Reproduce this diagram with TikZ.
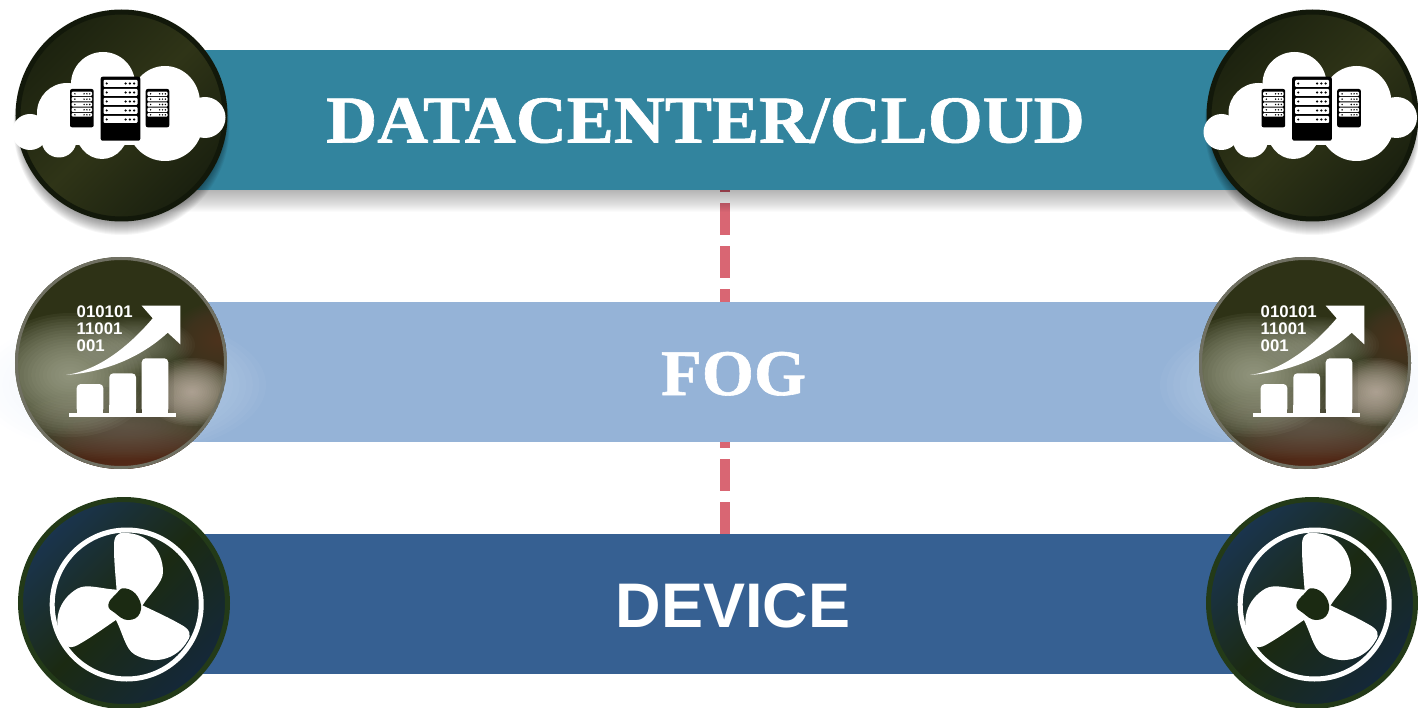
\documentclass[tikz,border=0pt]{standalone}
\usepackage{fontspec}
\setmainfont{Liberation Serif}
\newfontfamily\arialfont{Liberation Sans}
\newfontfamily\heavyserif[FakeBold=0.9]{Liberation Serif Bold}
\definecolor{cloudbar}{HTML}{32849E}
\definecolor{fogbar}{HTML}{95B3D7}
\definecolor{devbar}{HTML}{366092}
\definecolor{dashred}{HTML}{D96673}
\definecolor{fanmid}{HTML}{1B2A12}
\definecolor{cloudrim}{HTML}{12180A}
\definecolor{cloudA}{HTML}{1C220F}
\definecolor{cloudB}{HTML}{2F3417}
\definecolor{cloudC}{HTML}{1A200F}
\definecolor{fogrim}{HTML}{707062}
\definecolor{fanrim}{HTML}{233A18}
\definecolor{fanA}{HTML}{1A344E}
\definecolor{fanB}{HTML}{1B2A12}
\definecolor{fanC}{HTML}{14283A}
\definecolor{fogbase}{HTML}{2E3216}
\definecolor{blobred}{HTML}{5E3A2C}
\definecolor{blobdeep}{HTML}{64281C}
\definecolor{blobmid}{HTML}{787064}
\definecolor{blobsage}{HTML}{AFB29B}
\definecolor{blobsageb}{HTML}{AFB2A0}
\definecolor{blobpink}{HTML}{CDBEB2}
\definecolor{halocol}{HTML}{E1EBF8}
\tikzset{
  bar/.style={rectangle,minimum width=1090pt,minimum height=140pt,inner sep=0pt,fill=#1},
  link/.style={draw=dashred,line width=10pt,dash pattern=on 32pt off 11pt},
  title/.style={text=white,inner sep=0pt,anchor=base},
  orbcloud/.style={circle,minimum size=207pt,inner sep=0pt,line width=5pt,draw=cloudrim,
    left color=cloudA,right color=cloudC,middle color=cloudB,shading angle=45},
  orbfog/.style={circle,minimum size=209pt,inner sep=0pt,line width=3pt,draw=fogrim},
  orbfan/.style={circle,minimum size=207pt,inner sep=0pt,line width=5pt,draw=fanrim,
    left color=fanA,right color=fanC,middle color=fanB,shading angle=45},
}
% soft blob: stacked translucent ellipses
\newcommand\softblob[6]{% x y rx ry colour opacity-per-step
  \foreach \kk in {1,...,22}{
    \fill[#5,fill opacity=#6] (#1,#2) ellipse [x radius={#3*\kk/22},y radius={#4*\kk/22}];
  }}
\newcommand\rack[7]{% x0 y0 x1 y1 slot-inset dot-r slotlist(y0/y1)
  \fill[black,rounded corners=2pt] (#1,#2) rectangle (#3,#4);
  \foreach \ya/\yb in {#7}{
    \fill[white,rounded corners=1pt] ({#1+#5},\ya) rectangle ({#3-#5},\yb);
    \fill[black] ({#1+#5+3.2},{(\ya+\yb)/2}) circle [radius=#6];
    \foreach \dd in {3.5,8,12.5}{
      \fill[black] ({#3-#5-\dd*(#6/1.2)*0.95},{(\ya+\yb)/2}) circle [radius=#6];
    }
  }}
\newcommand\cloudicon{%
  \foreach \cx/\cy/\rr in {30/132/18, 59/140/17.5, 67/113/30, 103/84/32, 205/117.5/20.5}{
    \fill[white] (\cx,\cy) circle [radius=\rr];
  }
  \fill[white] (165,103) ellipse [x radius=35,y radius=37];
  \fill[white] (165,122) ellipse [x radius=38,y radius=39];
  \fill[white] (102,128) ellipse [x radius=27,y radius=31];
  \fill[white] (45,100) rectangle (185,145);
  \rack{100.7}{76.7}{140.3}{140.7}{2.8}{1.2}{80/87,89/96,98/105,107/114,116/123}
  \rack{70}{89}{93.7}{127.3}{1.7}{0.8}{91.7/96,97/101.3,102.3/106.7,107.7/112,113/116.7}
  \rack{145.7}{89}{169.3}{127.3}{1.7}{0.8}{91.7/96,97/101.3,102.3/106.7,107.7/112,113/116.7}
}
\newcommand\fogfill{%
  \fill[fogbase] (121,363) circle [radius=106];
  \softblob{220}{340}{50}{38}{blobred}{0.06}
  \softblob{135}{470}{115}{55}{blobdeep}{0.075}
  \softblob{125}{425}{115}{35}{blobmid}{0.05}
  \softblob{70}{375}{85}{62}{blobsage}{0.07}
  \softblob{135}{345}{60}{28}{blobsageb}{0.04}
  \softblob{192}{392}{48}{34}{blobpink}{0.075}
}
\newcommand\fogicon[1]{%
  \foreach \xa/\xb/\yt in {76.7/103.3/384,109.3/136/373.3,141.7/168.3/358.3}{
    \fill[black,fill opacity=.05] ({\xb},{\yt+3}) rectangle ({\xb+6},412.7);
    \fill[white,rounded corners=4pt] (\xa,412.9) -- (\xa,\yt) -- (\xb,\yt) -- (\xb,412.9) -- cycle;
    \fill[white] (\xa,405) rectangle (\xb,413);
  }
  \fill[white] (69,412.7) rectangle (176,416.7);
  \fill[white] (66,375) .. controls (100,370) and (130,345) .. (152.7,318.3)
    -- (141.7,305.7) -- (180.3,305.7) -- (180.3,344.3) -- (167.7,332.7)
    .. controls (140,358) and (105,372) .. (66,375) -- cycle;
  \node[text=white,inner sep=0pt,anchor=north west,align=left,font=\arialfont\bfseries\fontsize{16.8}{17}\selectfont] (#1) at (76.5,306) {010101\\11001\\001};
}
\newcommand\fanblade{%
  \fill[white] (-8.3,-14) .. controls (-10,-35) and (-11,-45) .. (-11,-58)
   .. controls (-11.5,-68) and (-8,-73) .. (0,-72)
   .. controls (22,-72) and (38,-55) .. (38,-33)
   .. controls (38,-22) and (25,-12) .. (16.7,1.7) -- (0,0) -- cycle;
}
\newcommand\fanicon{%
  \draw[white,line width=5pt] (126.7,604.5) circle [radius=74.5];
  \begin{scope}[shift={(125,605)}]
    \fanblade
    \begin{scope}[rotate=120]\fanblade\end{scope}
    \begin{scope}[rotate=240]\fanblade\end{scope}
    \fill[fanmid] plot[smooth cycle,tension=.8] coordinates {(-16.7,0) (-9,-11) (0,-16.7) (13,-8) (15,8) (3,15) (-10,8)};
  \end{scope}
}
\newcommand\halo{%
  \foreach \kk in {1,...,22}{
    \fill[halocol,fill opacity=.045] (121,385) ellipse [x radius={145*\kk/22},y radius={70*\kk/22}];
  }}
\newcommand\circshadow{%
  \foreach \kk in {1,...,16}{
    \fill[black,fill opacity=.035] (121.5,{115+4+\kk*0.5}) circle [radius={100+\kk*0.5}];
  }}
\begin{document}
\begin{tikzpicture}[x=1pt,y=-1pt]
\useasboundingbox (0,0) rectangle (1418,708);
\clip (0,0) rectangle (1418,708);
% bands
\node[bar=cloudbar] (cloudband) at (725,120) {};
\node[bar=fogbar] (fogband) at (725,372) {};
\node[bar=devbar] (devband) at (725,604) {};
% connectors
\draw[link,dash phase=30pt] (cloudband.south) -- (fogband.north);
\draw[link,dash phase=26pt] (fogband.south) -- (devband.north);
% band shadow
\foreach \kk in {1,...,22}{
  \fill[black,fill opacity=.016] (150,190) rectangle (1290,{190+\kk});
}
% halos
\halo
\begin{scope}[shift={(1184,0)}]\halo\end{scope}
% titles
\node[title,font=\heavyserif\fontsize{67}{67}\selectfont] (cloudtxt) at (705.5,142.5) {\scalebox{1.054}[1]{DATACENTER/CLOUD}};
\node[title,font=\heavyserif\fontsize{65}{65}\selectfont] (fogtxt) at (733.5,395) {\scalebox{1.03}[1]{FOG}};
\node[title,font=\arialfont\bfseries\fontsize{63}{63}\selectfont] (devtxt) at (733,627) {DEVICE};
% cloud circles
\circshadow
\begin{scope}[shift={(1191,0)}]\circshadow\end{scope}
\node[orbcloud] (orbcloudl) at (121.5,115.5) {};
\node[orbcloud] (orbcloudr) at (1312.5,115.5) {};
\cloudicon
\begin{scope}[shift={(1191.5,0)}]\cloudicon\end{scope}
% fog circles
\begin{scope}
  \clip (121,363) circle [radius=106];
  \fogfill
\end{scope}
\node[orbfog] (orbfogl) at (121,363) {};
\fogicon{binl}
\begin{scope}[shift={(1184,0)}]
  \begin{scope}
    \clip (121,363) circle [radius=106];
    \fogfill
  \end{scope}
  \node[orbfog] (orbfogr) at (121,363) {};
  \fogicon{binr}
\end{scope}
% fan circles
\node[orbfan] (orbfanl) at (124,603) {};
\node[orbfan] (orbfanr) at (1312,603) {};
\fanicon
\begin{scope}[shift={(1188,0)}]\fanicon\end{scope}
\end{tikzpicture}
\end{document}
